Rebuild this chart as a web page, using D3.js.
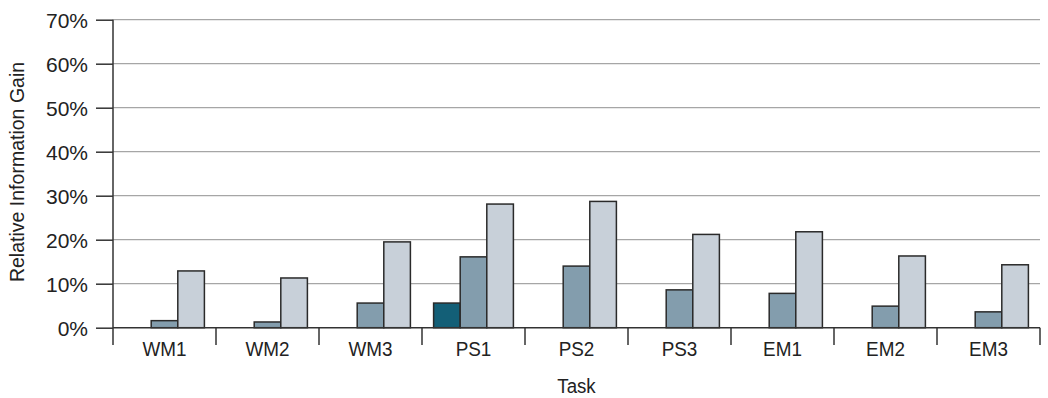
<!DOCTYPE html>
<html><head><meta charset="utf-8">
<script src="https://cdn.jsdelivr.net/npm/d3@7"></script>
<style>body{margin:0;background:#fff}svg{display:block}text{font-family:"Liberation Sans",Arial,sans-serif;fill:#222}</style>
</head><body><svg id="c" width="1048" height="398"></svg>
<script>
const categories = ["WM1","WM2","WM3","PS1","PS2","PS3","EM1","EM2","EM3"];
const series1 = [0,0,0,5.6,0,0,0,0,0];
const series2 = [1.6,1.3,5.6,16.1,14.0,8.6,7.8,4.9,3.6];
const series3 = [12.9,11.3,19.5,28.1,28.7,21.2,21.8,16.3,14.3];
const yTicks = [0,10,20,30,40,50,60,70];
const seriesNames = ["s1","s2","s3"];
const colors = ["#135f77","#839dad","#c8d0d9"];

const svg = d3.select("#c");
const L = 113, R = 1040, T = 19.7, B = 327.7;
const x = d3.scaleBand().domain(categories).range([L, R]).padding(0);
const bw = x.bandwidth();
const xs = d3.scaleBand().domain(seriesNames).range([11.6, bw - 11.6]).padding(0);
const y = d3.scaleLinear().domain([0, 70]).range([B, T]);

// gridlines
svg.append("g").selectAll("line").data(yTicks.filter(d => d > 0)).join("line")
  .attr("x1", L).attr("x2", R).attr("y1", d => y(d)).attr("y2", d => y(d))
  .attr("stroke", "#a6a6a6").attr("stroke-width", 1.3);

// y axis
const yAxis = d3.axisLeft(y).tickValues(yTicks).tickFormat(d => d + "%").tickSize(17).tickPadding(8);
const gy = svg.append("g").attr("transform", `translate(${L},0)`).call(yAxis);
gy.select(".domain").remove();
gy.selectAll(".tick line").attr("stroke", "#333").attr("stroke-width", 1.5);
gy.selectAll(".tick text").attr("font-size", 21).attr("font-family", "Liberation Sans, Arial, sans-serif").attr("fill", "#222").attr("dy", "0.35em");

// bars
const data = categories.map((c, i) => ({c, v: [series1[i], series2[i], series3[i]]}));
const grp = svg.append("g").selectAll("g").data(data).join("g")
  .attr("transform", d => `translate(${x(d.c)},0)`);
grp.selectAll("rect").data(d => d.v.map((v, j) => ({v, s: seriesNames[j], j})).filter(e => e.v > 0)).join("rect")
  .attr("x", e => xs(e.s)).attr("width", xs.bandwidth())
  .attr("y", e => y(e.v)).attr("height", e => B - y(e.v))
  .attr("fill", e => colors[e.j]).attr("stroke", "#2a2a2a").attr("stroke-width", 1.5);

// x axis baseline + separators
svg.append("line").attr("x1", L).attr("x2", R).attr("y1", B).attr("y2", B).attr("stroke", "#333").attr("stroke-width", 1.5);
svg.append("line").attr("x1", L).attr("x2", L).attr("y1", T).attr("y2", 345).attr("stroke", "#333").attr("stroke-width", 1.5);
svg.append("g").selectAll("line").data(categories).join("line")
  .attr("x1", d => x(d) + bw).attr("x2", d => x(d) + bw).attr("y1", B).attr("y2", 345)
  .attr("stroke", "#333").attr("stroke-width", 1.5);
svg.append("g").selectAll("text").data(categories).join("text")
  .attr("transform", d => `translate(${x(d) + bw / 2},356) scale(0.9,1)`)
  .attr("text-anchor", "middle").attr("font-size", 21).text(d => d);

// titles
svg.append("text").attr("transform", `translate(${(L + R) / 2},393) scale(0.89,1)`).attr("text-anchor", "middle").attr("font-size", 21).text("Task");
svg.append("text").attr("transform", "translate(24,172) rotate(-90) scale(0.93,1)").attr("text-anchor", "middle").attr("font-size", 21).text("Relative Information Gain");
</script></body></html>
